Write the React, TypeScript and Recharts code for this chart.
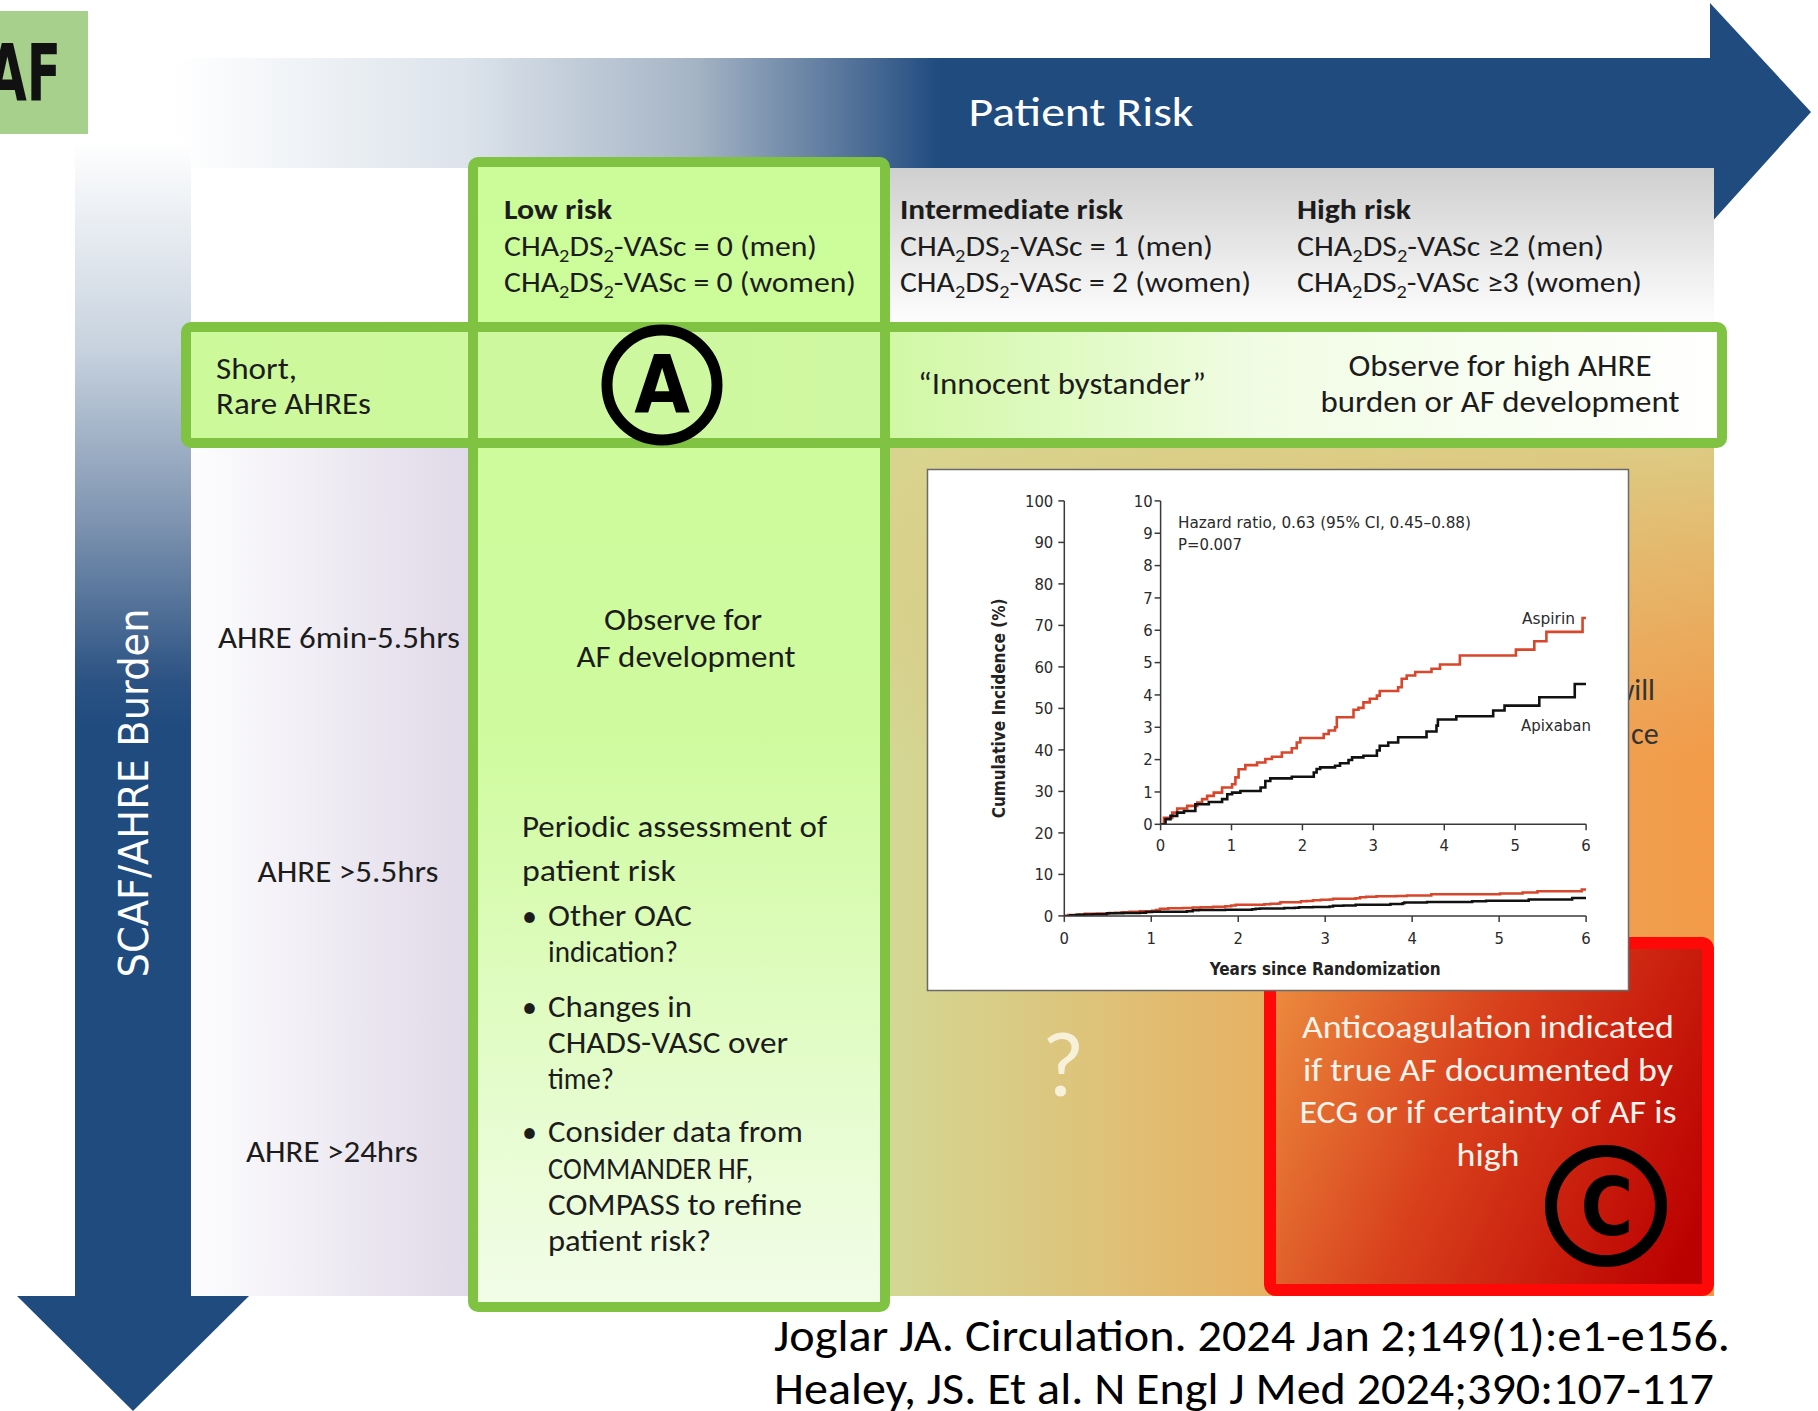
import React from 'react';
import { LineChart, Line, XAxis, YAxis, Label } from 'recharts';

// ---------- data ----------
const yearTicks = [0, 1, 2, 3, 4, 5, 6];
const mainPctTicks = [0, 10, 20, 30, 40, 50, 60, 70, 80, 90, 100];
const insetPctTicks = [0, 1, 2, 3, 4, 5, 6, 7, 8, 9, 10];

const aspirinYears = [0, 0.047, 0.164, 0.234, 0.375, 0.516, 0.586, 0.656, 0.75, 0.867, 1.008, 1.055, 1.1, 1.195, 1.36, 1.477, 1.57, 1.71, 1.85, 1.92, 1.97, 2.3, 2.37, 2.46, 2.485, 2.72, 2.79, 2.86, 2.95, 3.05, 3.09, 3.35, 3.4, 3.47, 3.59, 3.82, 3.94, 4.22, 5.01, 5.27, 5.44, 5.95, 6.0];
const aspirinPct = [0, 0.2, 0.36, 0.49, 0.57, 0.67, 0.78, 0.88, 0.98, 1.14, 1.24, 1.45, 1.7, 1.83, 1.91, 2.02, 2.09, 2.22, 2.35, 2.53, 2.67, 2.79, 2.9, 3.0, 3.31, 3.54, 3.6, 3.77, 3.88, 3.98, 4.12, 4.24, 4.5, 4.6, 4.71, 4.81, 4.94, 5.22, 5.4, 5.66, 5.95, 6.38, 6.38];

const apixabanYears = [0, 0.07, 0.14, 0.234, 0.33, 0.49, 0.68, 0.867, 0.94, 1.008, 1.125, 1.41, 1.477, 1.547, 1.85, 2.16, 2.2, 2.25, 2.46, 2.53, 2.65, 2.7, 2.86, 3.05, 3.09, 3.21, 3.35, 3.75, 3.89, 3.91, 4.17, 4.69, 4.85, 5.34, 5.84, 6.0];
const apixabanPct = [0, 0.16, 0.26, 0.36, 0.41, 0.62, 0.69, 0.78, 0.93, 0.98, 1.03, 1.14, 1.34, 1.42, 1.47, 1.6, 1.71, 1.76, 1.81, 1.89, 1.99, 2.07, 2.12, 2.28, 2.43, 2.53, 2.69, 2.87, 3.05, 3.24, 3.34, 3.52, 3.67, 3.93, 4.34, 4.34];

const aspirinData = aspirinYears.map((t, i) => ({ t, y: aspirinPct[i] }));
const apixabanData = apixabanYears.map((t, i) => ({ t, y: apixabanPct[i] }));

// ---------- styles ----------
const CAL = "Carlito, 'Open Sans', 'Noto Sans', sans-serif";
const NARROW = "'Liberation Sans Narrow', 'DejaVu Sans Condensed', sans-serif";
const CHART_FONT = "'DejaVu Sans Condensed', 'Liberation Sans Narrow', 'DejaVu Sans', sans-serif";
const GREEN = '#80c343';
const NAVY = '#1f4b7f';
const RED_LINE = '#d8472b';
const TXT = '#1c1c1c';

type TP = { x: number; y: number; w?: number; size: number; anchor?: string; weight?: number | string; fill?: string; family?: string; children: React.ReactNode; opacity?: number };
const T = ({ x, y, w, size, anchor = 'start', weight = 400, fill = TXT, family = CAL, children, opacity }: TP) => (
  <text x={x} y={y} fontSize={size} fontWeight={weight} fill={fill} fontFamily={family} textAnchor={anchor as any}
    textLength={w} lengthAdjust={w ? 'spacingAndGlyphs' : undefined} opacity={opacity}>{children}</text>
);

const Cha = ({ x, y, w, rest }: { x: number; y: number; w: number; rest: string }) => (
  <text x={x} y={y} fontSize={28} fill={TXT} fontFamily={CAL} textLength={w} lengthAdjust="spacingAndGlyphs">
    CHA<tspan fontSize={18} dy={6}>2</tspan><tspan dy={-6}>DS</tspan><tspan fontSize={18} dy={6}>2</tspan><tspan dy={-6}>{rest}</tspan>
  </text>
);

const axisLine = { stroke: '#3a3a3a', strokeWidth: 1.5 };
const tickStyle = { fill: '#2a2a2a', fontSize: 16.5, fontFamily: CHART_FONT };

function Background() {
  return (
    <svg width={1818} height={1411} style={{ position: 'absolute', left: 0, top: 0 }}>
      <defs>
        <linearGradient id="topArrow" gradientUnits="userSpaceOnUse" x1={174} y1={0} x2={940} y2={0}>
          <stop offset="0" stopColor="#ffffff" />
          <stop offset="0.38" stopColor="#dce3eb" />
          <stop offset="0.68" stopColor="#a5b4c5" />
          <stop offset="0.9" stopColor="#4d6d96" />
          <stop offset="1" stopColor={NAVY} />
        </linearGradient>
        <linearGradient id="leftArrow" gradientUnits="userSpaceOnUse" x1={0} y1={140} x2={0} y2={730}>
          <stop offset="0" stopColor="#ffffff" />
          <stop offset="0.35" stopColor="#c8d3df" />
          <stop offset="0.65" stopColor="#7d93b0" />
          <stop offset="0.92" stopColor="#2b5283" />
          <stop offset="1" stopColor={NAVY} />
        </linearGradient>
        <linearGradient id="header" gradientUnits="userSpaceOnUse" x1={0} y1={168} x2={0} y2={327}>
          <stop offset="0" stopColor="#cfcfcf" />
          <stop offset="1" stopColor="#ffffff" />
        </linearGradient>
        <linearGradient id="lav" gradientUnits="userSpaceOnUse" x1={191} y1={0} x2={473} y2={0}>
          <stop offset="0" stopColor="#fdfdfe" />
          <stop offset="1" stopColor="#e0d9e8" />
        </linearGradient>
        <linearGradient id="rightLow" gradientUnits="userSpaceOnUse" x1={885} y1={0} x2={1714} y2={0}>
          <stop offset="0" stopColor="#d3d895" />
          <stop offset="0.45" stopColor="#e6b264" />
          <stop offset="1" stopColor="#f29a48" />
        </linearGradient>
        <linearGradient id="rightLowTop" gradientUnits="userSpaceOnUse" x1={0} y1={443} x2={0} y2={760}>
          <stop offset="0" stopColor="#d9d48e" stopOpacity={0.85} />
          <stop offset="0.5" stopColor="#dccb84" stopOpacity={0.45} />
          <stop offset="1" stopColor="#e0c080" stopOpacity={0} />
        </linearGradient>
        <linearGradient id="redBox" gradientUnits="userSpaceOnUse" x1={1264} y1={1000} x2={1714} y2={1200}>
          <stop offset="0" stopColor="#ec8c3e" />
          <stop offset="0.45" stopColor="#d8401c" />
          <stop offset="1" stopColor="#bb0000" />
        </linearGradient>
        <linearGradient id="lowCol" gradientUnits="userSpaceOnUse" x1={0} y1={162} x2={0} y2={1307}>
          <stop offset="0" stopColor="#ccfc9a" />
          <stop offset="0.5" stopColor="#cffb9e" />
          <stop offset="1" stopColor="#f2fde9" />
        </linearGradient>
        <linearGradient id="row1" gradientUnits="userSpaceOnUse" x1={186} y1={0} x2={1722} y2={0}>
          <stop offset="0" stopColor="#ccf99a" />
          <stop offset="0.45" stopColor="#cff8a2" />
          <stop offset="0.7" stopColor="#f1fce4" />
          <stop offset="1" stopColor="#ffffff" />
        </linearGradient>
      </defs>

      {/* AF tag */}
      <rect x={0} y={11} width={88} height={123} fill="#a8d08d" />
      <T x={-12} y={100} w={73} size={78} weight={700} family={NARROW} fill="#111">AF</T>

      {/* top arrow */}
      <rect x={174} y={58} width={1540} height={110} fill="url(#topArrow)" />
      <polygon points="1710,3 1811,112 1710,224" fill={NAVY} />
      <T x={1081} y={126} w={225} size={42} anchor="middle" fill="#ffffff">Patient Risk</T>

      {/* header backgrounds */}
      <rect x={191} y={168} width={282} height={160} fill="#ffffff" />
      <rect x={885} y={168} width={829} height={160} fill="url(#header)" />

      {/* left arrow */}
      <rect x={75} y={140} width={116} height={1158} fill="url(#leftArrow)" />
      <polygon points="17,1296 249,1296 133,1411" fill={NAVY} />
      <text x={148} y={793} fontSize={40} fill="#ffffff" fontFamily="'DejaVu Sans', Verdana, sans-serif" textAnchor="middle"
        transform="rotate(-90 148 793)" textLength={369} lengthAdjust="spacingAndGlyphs">SCAF/AHRE Burden</text>

      {/* lower regions */}
      <rect x={191} y={443} width={282} height={853} fill="url(#lav)" />
      <rect x={885} y={443} width={829} height={853} fill="url(#rightLow)" />
      <rect x={885} y={443} width={829} height={853} fill="url(#rightLowTop)" />

      {/* red box */}
      <rect x={1270} y={943} width={438} height={347} rx={6} fill="url(#redBox)" stroke="#ff0808" strokeWidth={12} />

      {/* low risk column and row 1 */}
      <rect x={473} y={162} width={412} height={1145} fill="url(#lowCol)" />
      <rect x={186} y={327} width={1536} height={116} fill="url(#row1)" />
      <rect x={473} y={162} width={412} height={1145} rx={5} fill="none" stroke={GREEN} strokeWidth={10} />
      <rect x={186} y={327} width={1536} height={116} rx={5} fill="none" stroke={GREEN} strokeWidth={10} />

      {/* header text */}
      <T x={504} y={219} w={108} size={28} weight={700}>Low risk</T>
      <Cha x={504} y={256} w={313} rest="-VASc = 0 (men)" />
      <Cha x={504} y={292} w={352} rest="-VASc = 0 (women)" />
      <T x={900} y={219} w={223} size={28} weight={700}>Intermediate risk</T>
      <Cha x={900} y={256} w={313} rest="-VASc = 1 (men)" />
      <Cha x={900} y={292} w={351} rest="-VASc = 2 (women)" />
      <T x={1297} y={219} w={114} size={28} weight={700}>High risk</T>
      <Cha x={1297} y={256} w={307} rest="-VASc ≥2 (men)" />
      <Cha x={1297} y={292} w={345} rest="-VASc ≥3 (women)" />

      {/* row 1 text */}
      <T x={216} y={379} w={81} size={30}>Short,</T>
      <T x={216} y={414} w={155} size={30}>Rare AHREs</T>
      <circle cx={662} cy={385} r={55} fill="none" stroke="#000" strokeWidth={11} />
      <T x={662} y={413} size={80} weight={700} anchor="middle" family={NARROW} fill="#000">A</T>
      <T x={1062} y={394} w={288} size={30} anchor="middle">“Innocent bystander”</T>
      <T x={1500} y={376} w={303} size={30} anchor="middle">Observe for high AHRE</T>
      <T x={1500} y={412} w={359} size={30} anchor="middle">burden or AF development</T>

      {/* left column */}
      <T x={339} y={648} w={242} size={30} anchor="middle">AHRE 6min-5.5hrs</T>
      <T x={348} y={882} w={181} size={30} anchor="middle">AHRE &gt;5.5hrs</T>
      <T x={332} y={1162} w={172} size={30} anchor="middle">AHRE &gt;24hrs</T>

      {/* low-risk column body */}
      <T x={683} y={630} w={158} size={30} anchor="middle">Observe for</T>
      <T x={686} y={667} w={219} size={30} anchor="middle">AF development</T>
      <T x={522} y={837} w={305} size={30}>Periodic assessment of</T>
      <T x={522} y={881} w={154} size={30}>patient risk</T>
      <T x={522} y={926} size={30}>•</T>
      <T x={548} y={926} w={144} size={30}>Other OAC</T>
      <T x={548} y={962} w={130} size={30}>indication?</T>
      <T x={522} y={1017} size={30}>•</T>
      <T x={548} y={1017} w={144} size={30}>Changes in</T>
      <T x={548} y={1053} w={240} size={30}>CHADS-VASC over</T>
      <T x={548} y={1089} w={66} size={30}>time?</T>
      <T x={522} y={1142} size={30}>•</T>
      <T x={548} y={1142} w={255} size={30}>Consider data from</T>
      <T x={548} y={1179} w={205} size={30}>COMMANDER HF,</T>
      <T x={548} y={1215} w={254} size={30}>COMPASS to refine</T>
      <T x={548} y={1251} w={163} size={30}>patient risk?</T>

      {/* text fragments showing beside the chart panel */}
      <T x={1655} y={700} size={30} anchor="end" fill="#333">will</T>
      <T x={1631} y={744} size={30} fill="#333">ce</T>

      {/* question mark */}
      <T x={1063} y={1096} size={92} anchor="middle" fill="#fbf5e2" opacity={0.92}>?</T>

      {/* red box text */}
      <T x={1488} y={1038} w={372} size={32} anchor="middle" fill="#fff4ec">Anticoagulation indicated</T>
      <T x={1488} y={1081} w={370} size={32} anchor="middle" fill="#fff4ec">if true AF documented by</T>
      <T x={1488} y={1123} w={377} size={32} anchor="middle" fill="#fff4ec">ECG or if certainty of AF is</T>
      <T x={1488} y={1166} w={63} size={32} anchor="middle" fill="#fff4ec">high</T>
      <circle cx={1606} cy={1206} r={55} fill="none" stroke="#000" strokeWidth={12} />
      <T x={1607} y={1235} size={80} weight={700} anchor="middle" family={NARROW} fill="#000">C</T>

      {/* citation */}
      <T x={774} y={1351} w={956} size={46} fill="#000">Joglar JA. Circulation. 2024 Jan 2;149(1):e1-e156.</T>
      <T x={774} y={1404} w={940} size={46} fill="#000">Healey, JS. Et al. N Engl J Med 2024;390:107-117</T>

      {/* chart panel */}
      <rect x={927.5} y={469.5} width={701} height={521} fill="#ffffff" stroke="#6a6a6a" strokeWidth={1.5} />
    </svg>
  );
}

function MainChart() {
  return (
    <div style={{ position: 'absolute', left: 927, top: 470 }}>
      <LineChart width={702} height={521} margin={{ top: 30.9, right: 42.9, bottom: 0, left: 6.7 }}>
        <XAxis type="number" dataKey="t" domain={[0, 6]} ticks={yearTicks} interval={0} height={75.1}
          axisLine={axisLine} tickLine={axisLine} tickSize={6} tickMargin={10} tick={tickStyle} allowDataOverflow>
          <Label value="Years since Randomization" position="insideBottom" offset={16}
            style={{ fontSize: 17, fontWeight: 700, fill: '#222', fontFamily: CHART_FONT }} />
        </XAxis>
        <YAxis type="number" domain={[0, 100]} ticks={mainPctTicks} interval={0} width={130.6}
          axisLine={axisLine} tickLine={axisLine} tickSize={6} tickMargin={5} tick={tickStyle} allowDataOverflow>
          <Label value="Cumulative Incidence (%)" angle={-90} position="center"
            style={{ fontSize: 17, fontWeight: 700, fill: '#222', fontFamily: CHART_FONT }} />
        </YAxis>
        <Line data={aspirinData} dataKey="y" type="stepAfter" stroke={RED_LINE} strokeWidth={2.5} dot={false} isAnimationActive={false} />
        <Line data={apixabanData} dataKey="y" type="stepAfter" stroke="#111111" strokeWidth={2.5} dot={false} isAnimationActive={false} />
      </LineChart>
    </div>
  );
}

function InsetChart() {
  return (
    <div style={{ position: 'absolute', left: 1110, top: 485 }}>
      <LineChart width={490} height={385} margin={{ top: 15.9, right: 13.9, bottom: 15.7, left: 20.6 }}>
        <XAxis type="number" dataKey="t" domain={[0, 6]} ticks={yearTicks} interval={0} height={30}
          axisLine={axisLine} tickLine={axisLine} tickSize={6} tickMargin={9} tick={tickStyle} allowDataOverflow />
        <YAxis type="number" domain={[0, 10]} ticks={insetPctTicks} interval={0} width={30}
          axisLine={axisLine} tickLine={axisLine} tickSize={6} tickMargin={2} tick={tickStyle} allowDataOverflow />
        <Line data={aspirinData} dataKey="y" type="stepAfter" stroke={RED_LINE} strokeWidth={2.6} dot={false} isAnimationActive={false} />
        <Line data={apixabanData} dataKey="y" type="stepAfter" stroke="#111111" strokeWidth={2.6} dot={false} isAnimationActive={false} />
      </LineChart>
    </div>
  );
}

function Annotations() {
  return (
    <svg width={1818} height={1411} style={{ position: 'absolute', left: 0, top: 0, pointerEvents: 'none' }}>
      <T x={1178} y={528} w={293} size={16} family={CHART_FONT} fill="#2a2a2a">Hazard ratio, 0.63 (95% CI, 0.45–0.88)</T>
      <T x={1178} y={550} w={64} size={16} family={CHART_FONT} fill="#2a2a2a">P=0.007</T>
      <T x={1575} y={624} w={53} size={16} anchor="end" family={CHART_FONT} fill="#2a2a2a">Aspirin</T>
      <T x={1521} y={731} w={70} size={16} family={CHART_FONT} fill="#2a2a2a">Apixaban</T>
    </svg>
  );
}

export default function App() {
  return (
    <div style={{ position: 'absolute', left: 0, top: 0, width: 1818, height: 1411, background: '#ffffff', overflow: 'hidden' }}>
      <Background />
      <MainChart />
      <InsetChart />
      <Annotations />
    </div>
  );
}
